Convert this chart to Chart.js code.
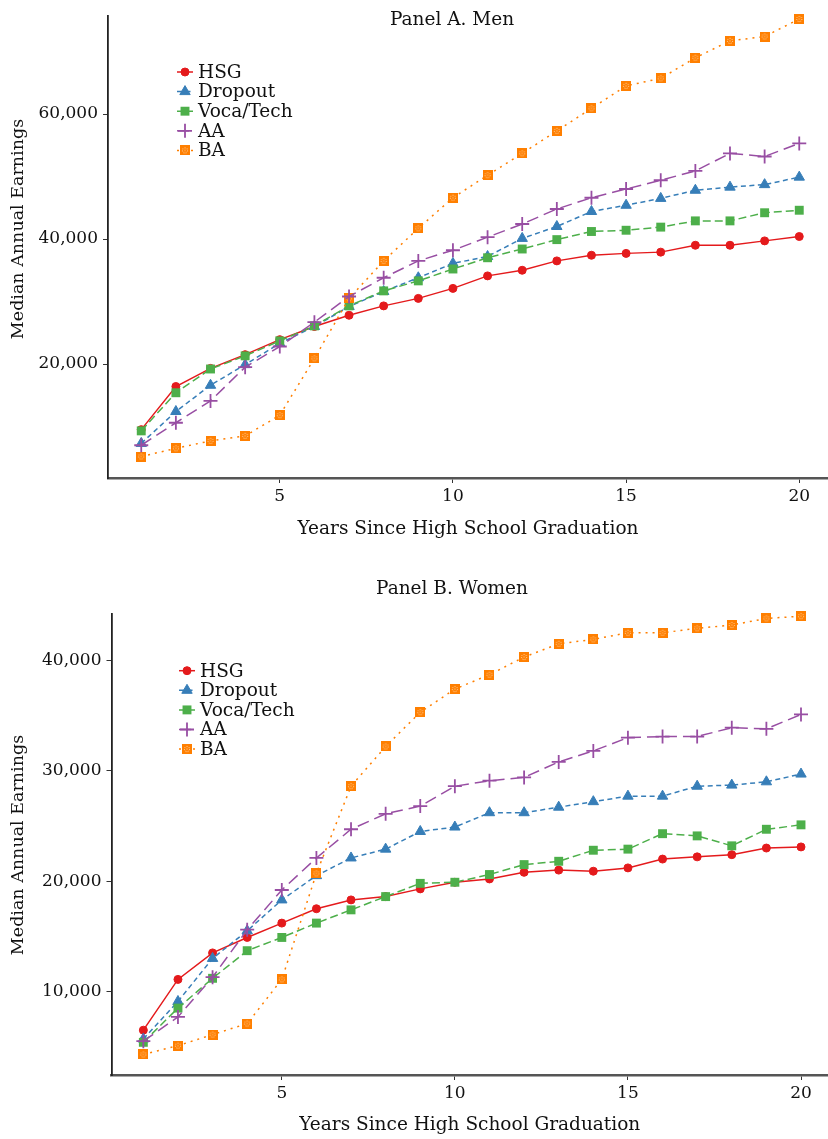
<!DOCTYPE html>
<html><head><meta charset="utf-8">
<script src="https://cdn.jsdelivr.net/npm/chart.js@4.4.1/dist/chart.umd.min.js"></script>
<style>
html,body{margin:0;padding:0;background:#fff;}
#wrapA{position:absolute;left:0;top:0;width:828px;height:575px;}
#wrapB{position:absolute;left:0;top:575px;width:828px;height:564px;}
</style></head><body>
<div id="wrapA"><canvas id="cA"></canvas></div>
<div id="wrapB"><canvas id="cB"></canvas></div>
<script>
// ---- data ----
const years = [1,2,3,4,5,6,7,8,9,10,11,12,13,14,15,16,17,18,19,20];
const seriesNames = ['HSG','Dropout','Voca/Tech','AA','BA'];
const xTicks = [5,10,15,20];
const yTicksMen = [20000,40000,60000];
const yTicksWomen = [10000,20000,30000,40000];

const menHSG     = [9500,16400,19300,21500,23900,26000,27800,29300,30500,32100,34100,35000,36500,37400,37700,37900,39000,39000,39700,40400];
const menDropout = [7300,12400,16600,19900,23300,26000,29200,31600,33800,36100,37200,40100,42000,44400,45400,46500,47800,48300,48700,49900];
const menVoca    = [9300,15400,19200,21300,23700,26100,29300,31700,33300,35200,37000,38400,39900,41200,41400,41900,42900,42900,44200,44600];
const menAA      = [7000,10600,14100,19500,22800,26700,30800,33800,36500,38200,40300,42400,44800,46600,48000,49400,50900,53700,53200,55300];
const menBA      = [5200,6500,7700,8500,11800,20900,30500,36500,41700,46600,50200,53700,57300,60900,64500,65700,69000,71700,72400,75200];

const womenHSG     = [6500,11100,13500,14900,16200,17500,18300,18600,19300,19900,20200,20800,21000,20900,21200,22000,22200,22400,23000,23100];
const womenDropout = [5700,9100,13000,15500,18300,20500,22100,22900,24500,24900,26200,26200,26700,27200,27700,27700,28600,28700,29000,29700];
const womenVoca    = [5400,8500,11200,13700,14900,16200,17400,18600,19800,19900,20600,21500,21800,22800,22900,24300,24100,23200,24700,25100];
const womenAA      = [5500,7700,11300,15600,19200,22100,24700,26100,26800,28600,29100,29400,30800,31800,33000,33100,33100,33900,33800,35100];
const womenBA      = [4300,5100,6100,7100,11100,20700,28600,32200,35300,37400,38700,40300,41500,41900,42500,42500,42900,43200,43800,44000];

// ---- styles ----
const FONT = "'DejaVu Serif', 'Liberation Serif', serif";
const colors = ['#e41a1c','#377eb8','#4daf4a','#984ea3','#ff7f00'];
const dashes = [[], [5,3.5], [8,4], [12,6], [2,5]];
const baImg = document.createElement('canvas');
baImg.width = 10; baImg.height = 10;
(function(){
  const g = baImg.getContext('2d');
  g.fillStyle = '#ff7f00'; g.fillRect(0,0,10,10);
  g.strokeStyle = 'rgba(255,235,210,0.95)'; g.lineWidth = 1; g.setLineDash([1,1.3]);
  g.beginPath(); g.arc(5,5,2.6,0,Math.PI*2); g.stroke();
  g.fillStyle = 'rgba(255,235,210,0.9)'; g.fillRect(4.5,4.5,1,1);
})();
const pStyles = ['circle','triangle','rect','cross',baImg];
const pRadius = [4,6,6.3,7,5];
const pBorder = [1,1,0,1.8,0];
const orders = [4,3,2,0,1];

function makeDatasets(arrs){
  return arrs.map((a,i)=>({
    label: seriesNames[i],
    data: years.map((y,j)=>({x:y, y:a[j]})),
    borderColor: colors[i],
    backgroundColor: colors[i],
    borderWidth: 1.5,
    borderDash: dashes[i],
    pointStyle: pStyles[i],
    pointRadius: pRadius[i],
    pointBorderWidth: pBorder[i],
    pointBorderColor: colors[i],
    pointBackgroundColor: colors[i],
    tension: 0,
    fill: false,
    clip: false,
    order: orders[i]
  }));
}

function panelPlugin(cfg){
  return {
    id: 'panel'+cfg.title.replace(/\W/g,''),
    afterDraw(chart){
      const ctx = chart.ctx;
      ctx.save();
      ctx.fillStyle = '#111';
      ctx.font = '18.5px ' + FONT;
      ctx.textAlign = 'center';
      ctx.textBaseline = 'middle';
      ctx.fillText(cfg.title, 452, cfg.titleY);
      // y-axis title
      ctx.save();
      ctx.translate(18, cfg.yTitleY);
      ctx.rotate(-Math.PI/2);
      ctx.font = '17.5px ' + FONT;
      ctx.fillText('Median Annual Earnings', 0, 0);
      ctx.restore();
      // legend
      const ds = chart.data.datasets;
      ds.forEach((d,i)=>{
        const y = cfg.legY0 + i*19.6;
        const lx = cfg.legX;
        ctx.save();
        ctx.strokeStyle = d.borderColor;
        ctx.lineWidth = 1.5;
        ctx.setLineDash(d.borderDash);
        ctx.beginPath(); ctx.moveTo(lx-8, y); ctx.lineTo(lx+8, y); ctx.stroke();
        ctx.setLineDash([]);
        ctx.fillStyle = d.pointBackgroundColor;
        ctx.strokeStyle = d.pointBorderColor;
        ctx.lineWidth = d.pointBorderWidth;
        Chart.helpers.drawPoint(ctx, {pointStyle: d.pointStyle, rotation: 0, radius: d.pointRadius, borderWidth: d.pointBorderWidth}, lx, y);
        ctx.restore();
        ctx.fillStyle = '#111';
        ctx.font = '18.5px ' + FONT;
        ctx.textAlign = 'left';
        ctx.textBaseline = 'middle';
        ctx.fillText(d.label, lx+13, y+1);
      });
      ctx.restore();
    }
  };
}

function makeChart(id, arrs, cfg){
  return new Chart(document.getElementById(id), {
    type: 'line',
    data: { datasets: makeDatasets(arrs) },
    options: {
      responsive: true, maintainAspectRatio: false, animation: false, devicePixelRatio: 1,
      layout: { autoPadding: false, padding: { top: cfg.top, left: 0, right: 0, bottom: 0 } },
      plugins: { legend: { display: false }, tooltip: { enabled: false }, title: { display: false } },
      scales: {
        x: {
          type: 'linear', min: cfg.xmin, max: cfg.xmax,
          afterBuildTicks: s => { s.ticks = xTicks.map(v => ({value: v})); },
          afterFit: s => { s.height = cfg.xh; },
          ticks: { color: '#111', font: { family: FONT, size: 17 }, padding: 3, maxRotation: 0 },
          grid: { drawOnChartArea: false, drawTicks: true, tickLength: 5, color: '#333', tickWidth: 1 },
          border: { display: true, color: '#555', width: 2.5 },
          title: { display: true, text: 'Years Since High School Graduation', color: '#111',
                   font: { family: FONT, size: 18.5 }, padding: { top: 0, bottom: cfg.xtb } }
        },
        y: {
          type: 'linear', min: cfg.ymin, max: cfg.ymax,
          afterBuildTicks: s => { s.ticks = cfg.yt.map(v => ({value: v})); },
          afterFit: s => { s.width = cfg.yw; },
          ticks: { color: '#111', font: { family: FONT, size: 17 }, padding: 5 },
          grid: { drawOnChartArea: false, drawTicks: true, tickLength: 5, color: '#333', tickWidth: 1 },
          border: { display: true, color: '#222', width: 1.8 },
          title: { display: false }
        }
      }
    },
    plugins: [panelPlugin(cfg)]
  });
}

makeChart('cA', [menHSG, menDropout, menVoca, menAA, menBA], {
  title: 'Panel A. Men', titleY: 20, legX: 185, legY0: 72, yTitleY: 229,
  top: 16, xh: 97, xtb: 35, yw: 108,
  xmin: 0.04, xmax: 20.83, ymin: 1760, ymax: 75680, yt: yTicksMen
});
makeChart('cB', [womenHSG, womenDropout, womenVoca, womenAA, womenBA], {
  title: 'Panel B. Women', titleY: 14, legX: 187, legY0: 95.7, yTitleY: 270,
  top: 39, xh: 64, xtb: 3, yw: 111.5,
  xmin: 0.08, xmax: 20.78, ymin: 2440, ymax: 44200, yt: yTicksWomen
});
</script>
</body></html>
